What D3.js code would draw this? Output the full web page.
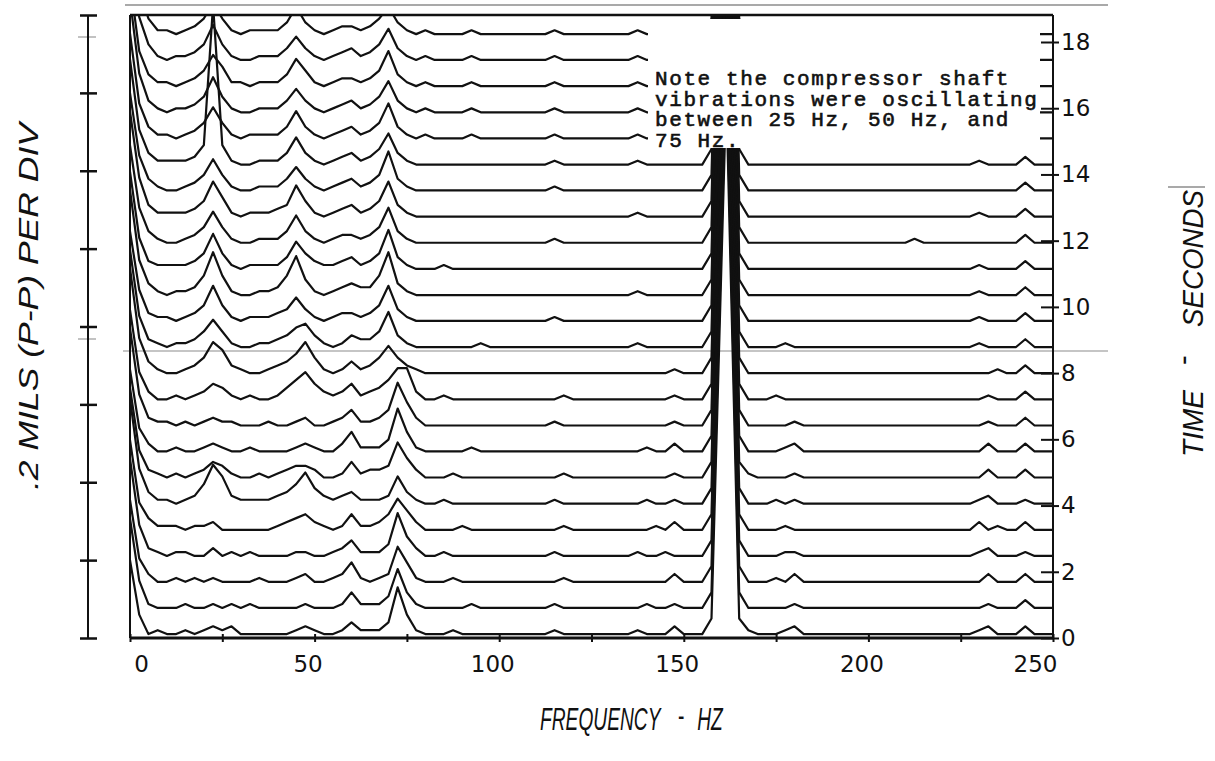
<!DOCTYPE html>
<html>
<head>
<meta charset="utf-8">
<script src="https://cdn.jsdelivr.net/npm/d3@7"></script>
<style>
  body { margin: 0; background: #fff; }
</style>
</head>
<body>
<script>
//frequency grid of every sweep (Hz)
let freqs = [
  0,2.5,5,7.5,10,12.5,15,17.5,20,22.5,
  25,27.5,30,32.5,35,37.5,40,42.5,45,47.5,
  50,52.5,55,57.5,60,62.5,65,67.5,70,72.5,
  75,77.5,80,82.5,85,87.5,90,92.5,95,97.5,
  100,102.5,105,107.5,110,112.5,115,117.5,120,122.5,
  125,127.5,130,132.5,135,137.5,140,142.5,145,147.5,
  150,152.5,155,157.5,161.5,165,167.5,170,172.5,175,
  177.5,180,182.5,185,187.5,190,192.5,195,197.5,200,
  202.5,205,207.5,210,212.5,215,217.5,220,222.5,225,
  227.5,230,232.5,235,237.5,240,242.5,245,247.5,250
]

//time of each sweep (seconds), bottom to top
let times = [0, 0.79, 1.58, 2.36, 3.15, 3.94, 4.73, 5.52, 6.30, 7.09, 7.88, 8.67,
             9.46, 10.24, 11.03, 11.82, 12.61, 13.40, 14.18, 14.97, 15.76, 16.55, 17.34, 18.12]

//amplitude of each sweep, in 0.01 mils (p-p)
let sweeps = [
  [20,6,1,2,1,1,2,1,2,3, 2,3,1,1,1,1,1,1,2,3, 2,1,1,2,4,2,2,2,4,13, 6,2,1,1,1,2,1,1,1,1, 1,1,1,1,1,1,2,1,1,1, 1,1,1,1,1,2,1,1,1,3, 1,1,1,5,140,5,2,1,1,1, 2,3,1,1,1,1,1,1,1,1, 1,1,1,1,1,1,1,1,1,1, 1,2,3,1,1,1,3,1,1,1],
  [24,8,2,1,1,1,2,1,1,2, 1,2,1,2,1,1,1,1,1,2, 1,1,1,2,5,2,2,2,4,11, 5,2,1,1,1,1,1,2,1,1, 1,1,1,1,1,1,2,1,1,1, 1,1,1,1,1,1,2,1,1,2, 1,1,1,5,140,5,1,1,1,1, 1,2,1,1,1,1,1,1,1,1, 1,1,1,1,1,1,1,1,1,1, 1,1,2,1,1,1,3,1,1,1],
  [22,7,3,1,1,2,1,2,1,2, 1,1,1,1,2,1,1,1,2,3, 1,1,2,3,6,2,1,2,3,10, 6,2,1,1,1,2,1,1,1,1, 1,1,1,1,1,1,1,2,1,1, 1,1,1,1,1,1,1,1,1,3, 1,1,1,5,140,5,1,1,1,2, 1,3,1,1,1,1,1,1,1,1, 1,1,1,1,1,1,1,1,1,1, 1,1,3,1,1,1,3,1,1,1],
  [26,9,3,2,1,2,2,1,1,3, 1,2,1,2,1,1,1,1,2,2, 1,1,2,3,5,2,2,2,4,12, 6,3,1,1,2,1,1,1,1,1, 1,1,1,1,1,1,2,1,1,1, 1,1,1,1,1,2,1,1,2,1, 1,1,1,5,140,5,1,1,1,1, 2,2,1,1,1,1,1,1,1,1, 1,1,1,1,1,1,1,1,1,1, 1,2,3,1,1,1,2,1,1,1],
  [24,8,4,2,2,2,1,2,2,3, 1,1,1,1,1,1,2,3,4,5, 3,2,1,2,5,2,2,3,5,9, 6,3,1,1,1,1,2,1,1,1, 1,1,1,1,1,1,1,2,1,1, 1,1,1,1,1,1,1,2,1,3, 1,1,1,5,140,5,1,1,1,1, 2,1,1,1,1,1,1,1,1,1, 1,1,1,1,1,1,1,1,1,1, 1,3,1,2,1,1,3,1,1,1],
  [28,10,4,2,2,1,2,3,6,11, 8,3,2,2,2,2,3,4,6,9, 5,3,2,3,4,2,2,2,3,8, 4,2,1,1,2,1,1,1,1,1, 1,1,1,1,1,1,2,1,1,1, 1,1,1,1,1,1,2,1,1,2, 1,1,1,5,140,5,1,1,1,2, 1,2,1,1,1,1,1,1,1,1, 1,1,1,1,1,1,1,1,1,1, 1,2,3,1,1,1,2,1,1,1],
  [24,8,3,2,1,2,1,2,3,5, 4,2,1,1,2,1,2,3,4,4, 3,1,1,2,5,2,3,3,4,10, 6,3,1,1,1,2,1,1,1,1, 1,1,1,1,1,1,1,2,1,1, 1,1,1,1,1,1,1,1,1,2, 1,1,1,5,140,5,2,1,1,1, 1,2,1,1,1,1,1,1,1,1, 1,1,1,1,1,1,1,1,1,1, 1,1,3,1,1,1,3,1,1,1],
  [22,7,3,1,1,2,1,1,2,3, 2,1,1,2,1,1,1,1,2,3, 2,1,1,3,6,2,2,2,4,12, 6,2,1,1,1,1,1,2,1,1, 1,1,1,1,1,1,1,1,1,1, 1,1,1,1,1,1,2,1,1,3, 1,1,1,5,140,5,1,1,1,1, 2,3,1,1,1,1,1,1,1,1, 1,1,1,1,1,1,1,1,1,1, 1,1,3,1,1,1,3,1,1,1],
  [26,9,3,2,2,1,2,1,2,3, 2,2,1,1,1,2,1,1,2,3, 1,1,2,3,5,2,2,3,5,12, 7,3,1,1,1,1,1,1,1,1, 1,1,1,1,1,1,2,1,1,1, 1,1,1,1,1,1,1,1,1,2, 1,1,1,5,140,5,1,1,1,1, 1,2,1,1,1,1,1,1,1,1, 1,1,1,1,1,1,1,1,1,1, 1,1,2,1,1,1,3,1,1,1],
  [24,8,3,1,1,2,1,2,3,5, 4,2,1,2,1,1,2,4,6,8, 5,3,2,3,5,2,3,4,6,9, 9,3,1,1,2,1,1,1,1,1, 1,1,1,1,1,1,1,2,1,1, 1,1,1,1,1,1,1,1,1,2, 1,1,1,5,140,5,1,1,1,2, 1,1,1,1,1,1,1,1,1,1, 1,1,1,1,1,1,1,1,1,1, 1,1,2,1,1,1,3,1,1,1],
  [28,10,4,2,1,1,2,3,5,9, 7,3,2,1,1,2,3,4,6,9, 5,2,1,2,4,2,3,5,8,5, 3,2,1,1,1,1,1,1,1,1, 1,1,1,1,1,1,1,1,1,1, 1,1,1,1,1,1,1,1,1,2, 1,1,1,5,140,5,1,1,1,1, 1,1,1,1,1,1,1,1,1,1, 1,1,1,1,1,1,1,1,1,1, 1,1,1,2,1,1,3,1,1,1],
  [26,9,3,2,1,2,2,3,5,8, 5,2,1,1,2,2,3,4,6,7, 4,2,1,2,4,3,3,5,10,4, 2,1,1,1,1,1,1,1,2,1, 1,1,1,1,1,1,1,1,1,1, 1,1,1,1,1,2,1,1,1,1, 1,1,1,5,140,5,1,1,1,1, 2,1,1,1,1,1,1,1,1,1, 1,1,1,1,1,1,1,1,1,1, 1,2,1,1,1,1,3,1,1,1],
  [24,9,3,2,2,1,2,3,5,10, 5,2,1,2,2,2,3,4,7,4, 2,1,2,3,3,2,3,5,10,4, 2,1,1,1,1,1,1,1,1,1, 1,1,1,1,1,1,2,1,1,1, 1,1,1,1,1,1,1,1,1,1, 1,1,1,5,140,5,1,1,1,1, 1,1,1,1,1,1,1,1,1,1, 1,1,1,1,1,1,1,1,1,1, 1,2,1,1,1,1,3,1,1,1],
  [28,10,4,2,1,2,2,3,6,12, 6,2,1,1,2,2,3,6,11,5, 2,1,2,3,4,3,3,6,12,4, 2,1,1,1,1,1,1,1,1,1, 1,1,1,1,1,1,1,1,1,1, 1,1,1,1,1,2,1,1,1,1, 1,1,1,5,140,5,1,1,1,1, 1,1,1,1,1,1,1,1,1,1, 1,1,1,1,1,1,1,1,1,1, 1,2,1,1,1,1,3,1,1,1],
  [26,9,3,2,2,2,2,3,5,10, 5,2,1,2,2,2,2,4,8,5, 3,2,2,3,4,2,3,5,11,4, 2,1,1,1,2,1,1,1,1,1, 1,1,1,1,1,1,1,1,1,1, 1,1,1,1,1,1,1,1,1,1, 1,1,1,5,140,5,1,1,1,1, 1,1,1,1,1,1,1,1,1,1, 1,1,1,1,1,1,1,1,1,1, 1,2,1,1,1,1,3,1,1,1],
  [26,10,4,2,1,1,2,3,5,9, 5,2,1,1,2,2,2,4,8,4, 2,1,2,3,3,2,3,5,10,4, 2,1,1,1,1,1,1,1,1,1, 1,1,1,1,1,1,2,1,1,1, 1,1,1,1,1,1,1,1,1,1, 1,1,1,5,140,5,1,1,1,1, 1,1,1,1,1,1,1,1,1,1, 1,1,1,1,2,1,1,1,1,1, 1,1,1,1,1,1,3,1,1,1],
  [28,11,4,2,2,2,2,3,5,10, 6,2,1,2,2,2,3,4,9,5, 2,1,2,3,4,2,3,5,10,4, 2,1,1,1,1,1,1,1,1,1, 1,1,1,1,1,1,1,1,1,1, 1,1,1,1,1,2,1,1,1,1, 1,1,1,5,140,5,1,1,1,1, 1,1,1,1,1,1,1,1,1,1, 1,1,1,1,1,1,1,1,1,1, 1,2,1,1,1,1,3,1,1,1],
  [26,10,4,2,1,1,2,3,5,9, 5,2,1,1,2,2,2,4,7,4, 2,1,2,3,4,2,3,5,11,4, 2,1,1,1,1,1,1,1,1,1, 1,1,1,1,1,1,2,1,1,1, 1,1,1,1,1,1,1,1,1,1, 1,1,1,5,140,5,1,1,1,1, 1,1,1,1,1,1,1,1,1,1, 1,1,1,1,1,1,1,1,1,1, 1,1,1,1,1,1,3,1,1,1],
  [28,10,4,2,2,2,2,3,6,42, 6,2,1,1,2,2,2,4,8,4, 2,1,2,3,4,2,3,5,9,4, 2,1,1,1,1,1,1,1,1,1, 1,1,1,1,1,1,2,1,1,1, 1,1,1,1,1,2,1,1,1,1, 1,1,1,5,140,5,1,1,1,1, 1,1,1,1,1,1,1,1,1,1, 1,1,1,1,1,1,1,1,1,1, 1,2,1,1,1,1,3,1,1,1],
  [28,10,4,2,2,1,2,3,5,9, 5,2,1,2,2,2,2,4,8,4, 2,1,2,3,4,2,3,5,10,4, 2,1,2,1,1,1,1,2,1,1, 1,1,1,1,1,1,2,1,1,1, 1,1,1,1,1,2,1,1,1,1, 1,1,1,5,140,5,1,1,1,1, 1,1,1,1,1,1,1,1,1,1, 1,1,1,1,1,1,1,1,1,1, 1,1,1,1,1,1,3,1,1,1],
  [30,11,4,2,1,2,2,3,5,10, 5,2,1,1,2,2,2,4,7,4, 2,1,2,3,4,2,3,5,9,4, 2,1,2,1,1,1,1,2,1,1, 1,1,1,1,1,1,2,1,1,1, 1,1,1,1,1,2,1,1,1,1, 1,1,1,5,140,5,1,1,1,1, 1,1,1,1,1,1,1,1,1,1, 1,1,1,1,1,1,1,1,1,1, 1,1,1,1,1,1,3,1,1,1],
  [28,10,4,2,2,1,2,3,5,9, 6,2,2,1,2,2,2,4,8,5, 2,1,2,3,3,2,3,5,10,4, 2,1,2,1,1,1,1,2,1,1, 1,1,1,1,1,1,2,1,1,1, 1,1,1,1,1,2,1,1,1,1, 1,1,1,5,140,5,1,1,1,1, 1,1,1,1,1,1,1,1,1,1, 1,1,1,1,1,1,1,1,1,1, 1,1,1,1,1,1,3,1,1,1],
  [30,12,5,2,1,2,2,3,5,10, 5,2,1,1,2,2,2,4,7,4, 2,1,2,3,4,2,3,5,9,4, 2,1,2,1,1,1,1,2,1,1, 1,1,1,1,1,1,2,1,1,1, 1,1,1,1,1,2,1,1,1,1, 1,1,1,5,140,5,1,1,1,1, 1,1,1,1,1,1,1,1,1,1, 1,1,1,1,1,1,1,1,1,1, 1,1,1,1,1,1,3,1,1,1],
  [32,12,5,2,2,1,2,3,5,9, 5,2,1,2,2,2,2,4,8,4, 2,1,2,3,3,2,3,5,8,4, 2,1,2,1,1,1,1,2,1,1, 1,1,1,1,1,1,2,1,1,1, 1,1,1,1,1,2,1,1,1,1, 1,1,1,5,140,5,1,1,1,1, 1,1,1,1,1,1,1,1,1,1, 1,1,1,1,1,1,1,1,1,1, 1,1,1,1,1,1,3,1,1,1]
]

//axis ticks
let freqTicks = [0, 25, 50, 75, 100, 125, 150, 175, 200, 225, 250]
let freqLabels = [0, 50, 100, 150, 200, 250]
let timeTicks = [0, 2, 4, 6, 8, 10, 12, 14, 16, 18]
let ampTicks = [0, 0.2, 0.4, 0.6, 0.8, 1.0, 1.2, 1.4, 1.6]

let noteLines = [
  'Note the compressor shaft',
  'vibrations were oscillating',
  'between 25 Hz, 50 Hz, and',
  '75 Hz.'
]

let width = 1215,
    height = 761

let svg = d3.select('body')
            .append('svg')
            .attr('width', width)
            .attr('height', height)
            .style('background', '#fff')

//scales
let x = d3.scaleLinear().domain([0, 250]).range([130, 1053])
let yTime = d3.scaleLinear().domain([0, 18]).range([638, 42])
let yAmp = d3.scaleLinear().domain([0, 1.6]).range([638, 15])

//grey scan lines
svg.append('line').attr('x1', 125).attr('x2', 1108).attr('y1', 5).attr('y2', 5)
   .attr('stroke', '#8c8c8c').attr('stroke-width', 1.4)
svg.append('line').attr('x1', 123).attr('x2', 1108).attr('y1', 351).attr('y2', 351)
   .attr('stroke', '#8c8c8c').attr('stroke-width', 1.2)
svg.append('line').attr('x1', 78).attr('x2', 96).attr('y1', 37).attr('y2', 37)
   .attr('stroke', '#999').attr('stroke-width', 1.2)
svg.append('line').attr('x1', 78).attr('x2', 96).attr('y1', 339).attr('y2', 339)
   .attr('stroke', '#999').attr('stroke-width', 1.2)

//the sweeps
svg.append('clipPath').attr('id', 'plotClip')
   .append('rect').attr('x', 130).attr('y', 15).attr('width', 923).attr('height', 626)

let plot = svg.append('g').attr('clip-path', 'url(#plotClip)')

sweeps.forEach((amps, k) => {
  let base = yTime(times[k])
  let line = d3.line()
              .x((d, i) => x(freqs[i]))
              .y(d => base - (yAmp(0) - yAmp(d / 100)))
  plot.append('path')
      .datum(amps)
      .attr('d', line)
      .attr('fill', 'none')
      .attr('stroke', '#111')
      .attr('stroke-width', 2.2)
      .attr('stroke-linejoin', 'round')
})

//white note area over the top right
svg.append('rect')
   .attr('x', 648).attr('y', 19)
   .attr('width', 392).attr('height', 129)
   .attr('fill', '#fff')

svg.append('g')
   .selectAll('text')
   .data(noteLines)
   .join('text')
   .attr('x', 655)
   .attr('y', (d, i) => 85 + i * 20.7)
   .text(d => d)
   .style('font-family', '"Liberation Mono", "DejaVu Sans Mono", monospace')
   .style('font-size', '21px')
   .style('letter-spacing', '1.6px')
   .attr('fill', '#111')
   .attr('stroke', '#111')
   .attr('stroke-width', 0.6)

//frame
let frame = svg.append('g').attr('stroke', '#111').attr('fill', 'none')
frame.append('line').attr('x1', 130).attr('x2', 1053).attr('y1', 15).attr('y2', 15).attr('stroke-width', 2.5)
frame.append('line').attr('x1', 130).attr('x2', 130).attr('y1', 15).attr('y2', 638).attr('stroke-width', 2)

//bottom axis
let xAxis = svg.append('g')
               .attr('transform', 'translate(0, 638)')
               .call(d3.axisBottom(x)
                       .tickValues(freqTicks)
                       .tickSize(4)
                       .tickFormat(d => freqLabels.includes(d) ? d : ''))
xAxis.select('.domain').attr('stroke', '#111').attr('stroke-width', 3).attr('d', 'M130,0H1053')
xAxis.selectAll('.tick line').attr('y1', -4).attr('y2', 4).attr('stroke', '#111').attr('stroke-width', 2)
xAxis.selectAll('.tick text')
     .attr('y', 18)
     .attr('dx', d => d === 0 ? 11 : d === 250 ? -18 : -7)
     .style('font-family', '"DejaVu Sans", sans-serif')
     .style('font-size', '23px')
     .attr('fill', '#111')

//right axis
let yAxis = svg.append('g')
               .attr('transform', 'translate(1053, 0)')
               .call(d3.axisRight(yTime).tickValues(timeTicks).tickSize(6))
yAxis.select('.domain').attr('stroke', '#111').attr('stroke-width', 2).attr('d', 'M0,15V638')
yAxis.selectAll('.tick line').attr('x1', -12).attr('x2', 6).attr('stroke', '#111').attr('stroke-width', 2)
yAxis.selectAll('.tick text')
     .attr('x', 8)
     .style('font-family', '"DejaVu Sans", sans-serif')
     .style('font-size', '23px')
     .attr('fill', '#111')

//left amplitude scale (no labels)
let aAxis = svg.append('g')
               .attr('transform', 'translate(88, 0)')
               .call(d3.axisLeft(yAmp).tickValues(ampTicks).tickSize(8).tickFormat(''))
aAxis.select('.domain').attr('stroke', '#111').attr('stroke-width', 2).attr('d', 'M0,15V638')
aAxis.selectAll('.tick line').attr('x1', -8).attr('x2', 9).attr('stroke', '#111').attr('stroke-width', 2.5)

//axis titles
let titleFont = '"Liberation Sans", Arial, sans-serif'

svg.append('text')
   .attr('transform', 'translate(38, 490) rotate(-90)')
   .attr('textLength', 367)
   .attr('lengthAdjust', 'spacingAndGlyphs')
   .text('.2 MILS (P-P) PER DIV')
   .style('font-family', titleFont)
   .style('font-style', 'italic')
   .style('font-size', '27px')
   .attr('fill', '#111')

//frequency title, condensed like the plotter lettering
let fTitle = svg.append('text')
   .attr('transform', 'translate(540, 730) scale(0.6, 1)')
   .style('font-family', titleFont)
   .style('font-style', 'italic')
   .style('font-size', '32px')
   .attr('fill', '#111')
fTitle.append('tspan').attr('x', 0).text('FREQUENCY')
fTitle.append('tspan').attr('x', 230).attr('dy', -4).style('font-style', 'normal').text('-')
fTitle.append('tspan').attr('x', 262).attr('dy', 4).text('HZ')

//time title
let tTitle = svg.append('text')
   .attr('transform', 'translate(1203, 457) rotate(-90)')
   .style('font-family', titleFont)
   .style('font-style', 'italic')
   .style('font-size', '29px')
   .attr('fill', '#111')
tTitle.append('tspan').attr('x', 0).attr('textLength', 67).attr('lengthAdjust', 'spacingAndGlyphs').text('TIME')
tTitle.append('tspan').attr('x', 92).attr('dy', -10).style('font-style', 'normal').text('-')
tTitle.append('tspan').attr('x', 130).attr('dy', 10).attr('textLength', 137).attr('lengthAdjust', 'spacingAndGlyphs').text('SECONDS')

svg.append('line')
   .attr('x1', 1168).attr('x2', 1205).attr('y1', 187).attr('y2', 187)
   .attr('stroke', '#555').attr('stroke-width', 1.2)
</script>
</body>
</html>
